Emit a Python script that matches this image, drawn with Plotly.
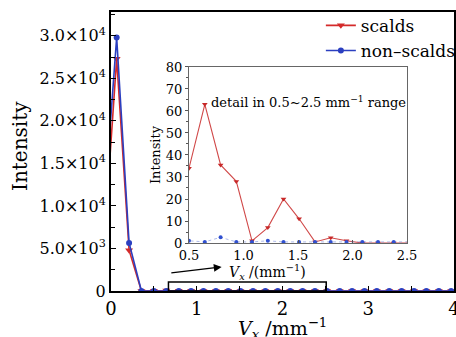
import plotly.graph_objects as go

# ---- data ----
vx = [-0.078, 0.066, 0.211, 0.355, 0.5, 0.645, 0.79, 0.934, 1.078, 1.223, 1.367,
      1.51, 1.656, 1.8, 1.945, 2.09, 2.234, 2.378, 2.52, 2.667, 2.811, 2.956,
      3.1, 3.245, 3.389, 3.534, 3.678, 3.823, 3.967]
scalds = [6000, 27300, 4800, 0, 34, 63, 35.5, 28, 1, 7, 20,
          11, 0.5, 2.4, 1, 0, 0, 0, 0, 0, 0, 0,
          0, 0, 0, 0, 0, 0, 0]
non_scalds = [10000, 29800, 5650, 0, 1, 0.5, 2.6, 0.5, 0.5, 1, 0.5,
              0.5, 0.5, 0.5, 0.5, 0.5, 0.5, 0.5, 0.5, 0.5, 0.5, 0.5,
              0.5, 0.5, 0.5, 0.5, 0.5, 0.5, 0.5]

y_tickvals = [0, 5000, 10000, 15000, 20000, 25000, 30000]
y_ticktext = ["0", "5.0×10<sup>3</sup>", "1.0×10<sup>4</sup>", "1.5×10<sup>4</sup>",
              "2.0×10<sup>4</sup>", "2.5×10<sup>4</sup>", "3.0×10<sup>4</sup>"]
x_tickvals = [0, 1, 2, 3, 4]

inset_x_ticks = [0.5, 1.0, 1.5, 2.0, 2.5]
inset_x_text = ["0.5", "1.0", "1.5", "2.0", "2.5"]
inset_y_ticks = [0, 10, 20, 30, 40, 50, 60, 70, 80]

# box + arrow locations (data units)
box_x = [0.67, 2.51]
box_y = [0, 1060]
arrow_tail = (0.686, 2118)
arrow_head = (1.29, 2823)

RED = "#d42a2a"
BLUE = "#2b3fc0"
FONT = "DejaVu Serif"

fig = go.Figure()

# main traces
fig.add_trace(go.Scatter(x=vx, y=scalds, name="scalds", mode="lines+markers",
                         line=dict(color=RED, width=1.6),
                         marker=dict(symbol="triangle-down", size=7, color=RED),
                         xaxis="x", yaxis="y"))
fig.add_trace(go.Scatter(x=vx, y=non_scalds, name="non–scalds", mode="lines+markers",
                         line=dict(color=BLUE, width=1.6),
                         marker=dict(symbol="circle", size=6, color=BLUE),
                         xaxis="x", yaxis="y"))

# inset traces
fig.add_trace(go.Scatter(x=vx, y=scalds, mode="lines+markers", showlegend=False,
                         line=dict(color="#d04848", width=1.1),
                         marker=dict(symbol="triangle-down", size=5, color="#c82828"),
                         xaxis="x2", yaxis="y2", cliponaxis=True))
fig.add_trace(go.Scatter(x=vx, y=non_scalds, mode="lines+markers", showlegend=False,
                         line=dict(color="rgba(120,140,220,0.6)", width=1, dash="dot"),
                         marker=dict(symbol="circle", size=4, color="#3050d0"),
                         xaxis="x2", yaxis="y2", cliponaxis=True))

fig.add_shape(type="rect", xref="x", yref="y", x0=box_x[0], x1=box_x[1],
              y0=box_y[0], y1=box_y[1], line=dict(color="black", width=1.5))

fig.add_annotation(xref="x", yref="y", axref="x", ayref="y",
                   x=arrow_head[0], y=arrow_head[1],
                   ax=arrow_tail[0], ay=arrow_tail[1],
                   showarrow=True, arrowhead=2, arrowsize=1.2, arrowwidth=1.3,
                   arrowcolor="black", text="")

fig.add_annotation(xref="x2", yref="y2", x=0.68, y=64, xanchor="left", yanchor="middle",
                   text="detail in 0.5~2.5 mm<sup>−1</sup> range", showarrow=False,
                   font=dict(family=FONT, size=13, color="black"))

# axis titles as annotations for exact placement
fig.add_annotation(xref="paper", yref="paper", x=-0.265, y=0.52, xanchor="center",
                   yanchor="middle", textangle=-90, text="Intensity", showarrow=False,
                   font=dict(family=FONT, size=20, color="black"))
fig.add_annotation(xref="paper", yref="paper", x=0.5, y=-0.135, xanchor="center",
                   yanchor="middle",
                   text="<i>V</i><sub><i>x</i></sub> /mm<sup>−1</sup>", showarrow=False,
                   font=dict(family=FONT, size=19, color="black"))
fig.add_annotation(xref="paper", yref="paper", x=0.455, y=0.068, xanchor="center",
                   yanchor="middle",
                   text="<i>V</i><sub><i>x</i></sub> /(mm<sup>−1</sup>)", showarrow=False,
                   font=dict(family=FONT, size=14, color="black"))

fig.update_layout(
    width=456, height=337,
    margin=dict(l=111, r=2, t=12, b=46, autoexpand=False),
    paper_bgcolor="white", plot_bgcolor="white",
    font=dict(family=FONT, color="black"),
    showlegend=True,
    legend=dict(x=1.02, xanchor="right", y=1.015, yanchor="top",
                bgcolor="rgba(0,0,0,0)", borderwidth=0,
                font=dict(family=FONT, size=17), tracegroupgap=0,
                itemwidth=30),
    xaxis=dict(range=[0, 4], tickvals=x_tickvals, ticks="inside", ticklen=5,
               tickwidth=1.3, tickcolor="black", automargin=False,
               ticklabeloverflow="allow",
               minor=dict(ticks="inside", dtick=0.5, ticklen=5, tickcolor="black"),
               showline=True, linecolor="black", linewidth=2, mirror=True,
               showgrid=False, zeroline=False,
               tickfont=dict(family=FONT, size=18)),
    yaxis=dict(range=[0, 32800], tickvals=y_tickvals, ticktext=y_ticktext,
               ticks="inside", ticklen=5, tickwidth=1.3, tickcolor="black",
               automargin=False,
               minor=dict(ticks="inside", dtick=2500, ticklen=4, tickcolor="black"),
               showline=True, linecolor="black", linewidth=2, mirror=True,
               showgrid=False, zeroline=False,
               tickfont=dict(family=FONT, size=16)),
    xaxis2=dict(domain=[0.2274, 0.863], anchor="y2", range=[0.5, 2.5],
                tickvals=inset_x_ticks, ticktext=inset_x_text,
                ticks="inside", ticklen=3, tickcolor="#555", automargin=False,
                showline=True, linecolor="#666", linewidth=1, mirror=True,
                showgrid=False, zeroline=False,
                tickfont=dict(family=FONT, size=13)),
    yaxis2=dict(domain=[0.172, 0.803], anchor="x2", range=[0, 80],
                tickvals=inset_y_ticks, ticks="outside", ticklen=3, tickcolor="#555",
                automargin=False,
                minor=dict(ticks="outside", dtick=5, ticklen=2, tickcolor="#555"),
                showline=True, linecolor="#666", linewidth=1, mirror=True,
                showgrid=False, zeroline=False,
                tickfont=dict(family=FONT, size=13),
                title=dict(text="Intensity", font=dict(family=FONT, size=13), standoff=2)),
)

fig.write_html("out.html", config={"displayModeBar": False},
               post_script="document.body.style.margin='0';document.body.style.padding='0';")
